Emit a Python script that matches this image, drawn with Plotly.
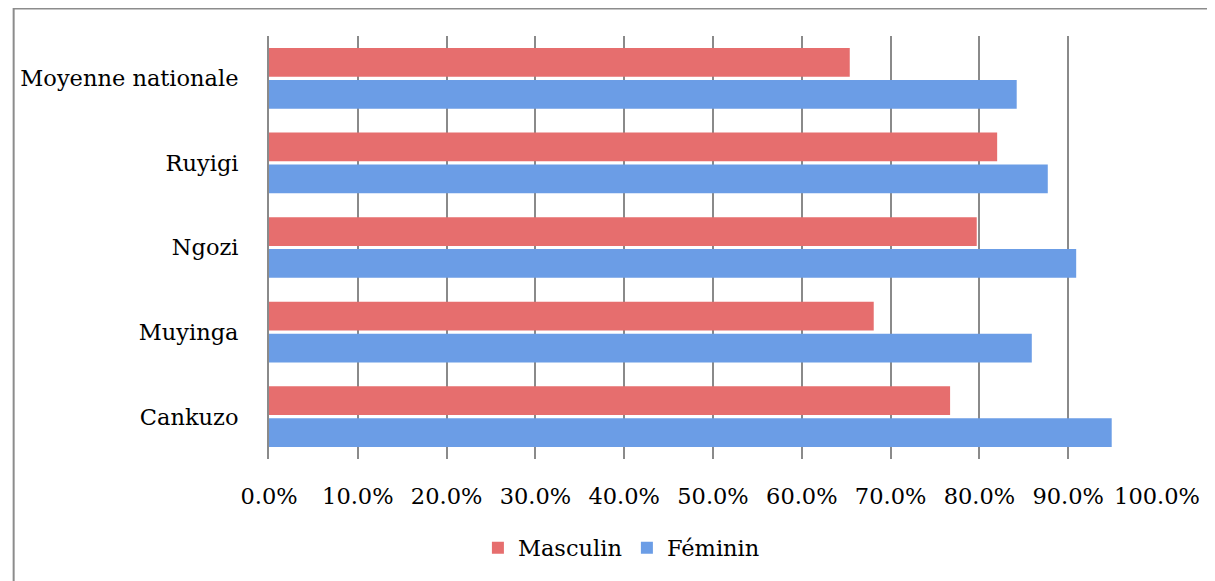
import plotly.graph_objects as go

categories = ["Cankuzo", "Muyinga", "Ngozi", "Ruyigi", "Moyenne nationale"]
masculin = [0.767, 0.681, 0.797, 0.820, 0.654]
feminin = [0.949, 0.859, 0.909, 0.877, 0.842]
x_ticks = [0, 0.1, 0.2, 0.3, 0.4, 0.5, 0.6, 0.7, 0.8, 0.9, 1.0]

FONT = "DejaVu Serif"
FS = 22.5
OFF = 8  # page offset of the figure (body margin)
W, H = 1215, 581
PL, PR, PT, PB = 265, 1157, 36, 459  # plot area in page pixels
L, R, T, B = PL - OFF, W - (PR - OFF), PT - OFF, H - (PB - OFF)
pw = PR - PL
ph = PB - PT

def px_x(p):
    return (p - PL) / pw

def px_y(p):
    return (PB - p) / ph

fig = go.Figure()
fig.add_trace(go.Bar(
    y=categories, x=feminin, name="Féminin", orientation="h",
    marker=dict(color="#6b9de6", line=dict(width=0)),
))
fig.add_trace(go.Bar(
    y=categories, x=masculin, name="Masculin", orientation="h",
    marker=dict(color="#e66e6e", line=dict(width=0)),
))

fig.update_layout(
    width=W, height=H,
    margin=dict(l=L, r=R, t=T, b=B),
    paper_bgcolor="white", plot_bgcolor="white",
    barmode="group", bargap=0.245, bargroupgap=0.1,
    font=dict(family=FONT, size=FS, color="black"),
    showlegend=True,
    legend=dict(orientation="h", traceorder="reversed",
                x=px_x(619), xanchor="center", y=px_y(548), yanchor="middle",
                font=dict(family=FONT, size=FS), itemsizing="constant"),
    xaxis=dict(range=[0, 1.0], tickvals=x_ticks, tickformat=".1%",
               showgrid=True, gridcolor="#8a8a8a", gridwidth=2,
               zeroline=False, showline=False,
               ticks="outside", ticklen=17, tickcolor="rgba(0,0,0,0)",
               tickfont=dict(family=FONT, size=FS)),
    yaxis=dict(showgrid=False, zeroline=False,
               showline=True, linecolor="#8a8a8a", linewidth=2,
               ticks="outside", ticklen=24, tickcolor="rgba(0,0,0,0)",
               tickfont=dict(family=FONT, size=FS)),
)

# chart border (extends past the right and bottom edges)
fig.add_shape(type="rect", xref="paper", yref="paper",
              x0=px_x(8.5), x1=px_x(1240), y0=px_y(600), y1=px_y(8.5),
              line=dict(color="#8c8c8c", width=2), fillcolor="rgba(0,0,0,0)", layer="below")

fig.write_html("out.html")
